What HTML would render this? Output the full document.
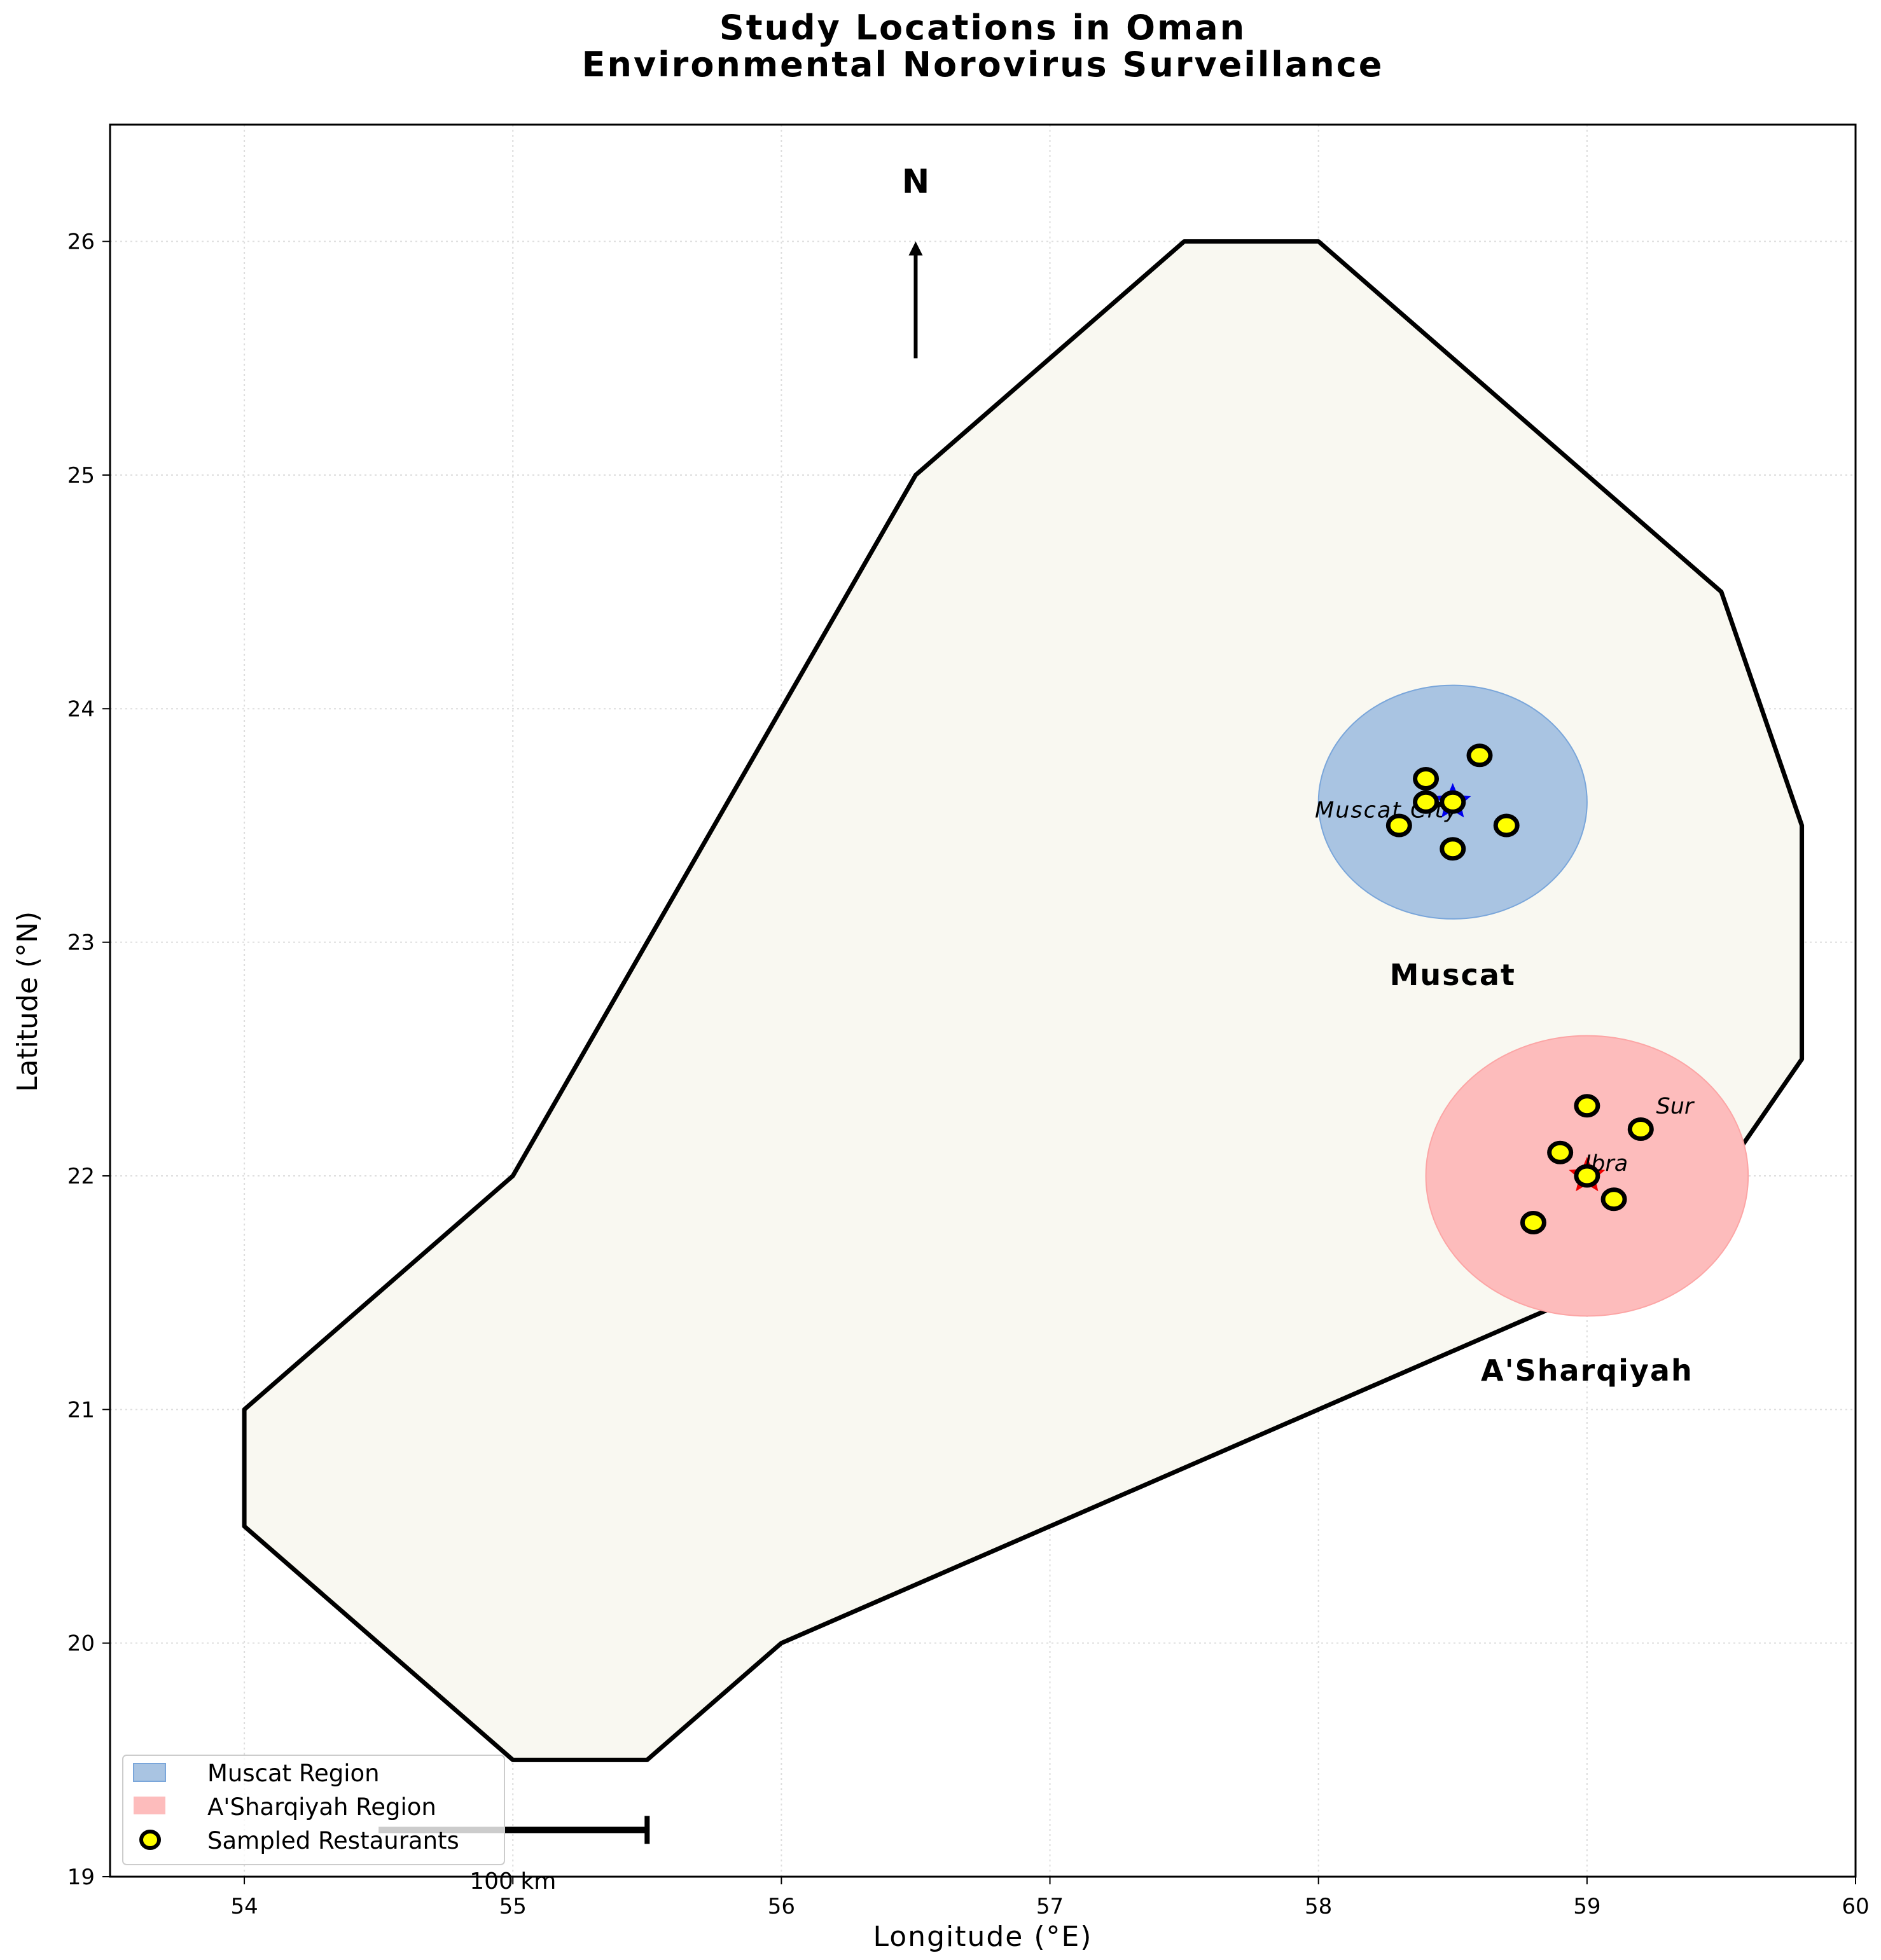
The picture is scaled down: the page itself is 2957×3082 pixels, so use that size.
<!DOCTYPE html>
<html><head><meta charset="utf-8"><style>html,body{margin:0;padding:0;background:#fff}svg{display:block}text{font-family:"DejaVu Sans","Liberation Sans",sans-serif}</style></head>
<body>
<svg id="chart" width="2957" height="3082" viewBox="0 0 2957 3082" xmlns="http://www.w3.org/2000/svg">
<rect width="2957" height="3082" fill="#fff"/>
<text x="1545" y="62" text-anchor="middle" font-size="54" font-weight="bold" letter-spacing="3">Study Locations in Oman</text>
<text x="1545" y="120" text-anchor="middle" font-size="54" font-weight="bold" letter-spacing="3">Environmental Norovirus Surveillance</text>
<g id="plot"></g>
</svg>
<script>
const xTicks=[54,55,56,57,58,59,60];
const yTicks=[19,20,21,22,23,24,25,26];
const boundaryLon=[54,54,55,55.5,56,59,59.5,59.8,59.8,59.5,58,57.5,56.5,55,54];
const boundaryLat=[21,20.5,19.5,19.5,20,21.5,22,22.5,23.5,24.5,26,26,25,22,21];
const muscatLon=[58.4,58.6,58.4,58.5,58.3,58.7,58.5];
const muscatLat=[23.7,23.8,23.6,23.6,23.5,23.5,23.4];
const sharqLon=[59,59.2,58.9,59,59.1,58.8];
const sharqLat=[22.3,22.2,22.1,22,21.9,21.8];
const regionCenters=[[58.5,23.6],[59,22]];
const regionRadii=[0.5,0.6];

const L=173,R=2917,T=196,B=2951;
const X=v=>L+(v-53.5)/(60-53.5)*(R-L);
const Y=v=>B-(v-19)/(26.5-19)*(B-T);
const NS='http://www.w3.org/2000/svg';
const g=document.getElementById('plot');
function mk(tag,attrs,parent){const e=document.createElementNS(NS,tag);for(const k in attrs)e.setAttribute(k,attrs[k]);(parent||g).appendChild(e);return e;}

xTicks.forEach(v=>{const e=mk('line',{x1:X(v),x2:X(v),y1:T,y2:B,stroke:'#ddd','stroke-width':2,'stroke-dasharray':'3,5'});

});
yTicks.forEach(v=>{const e=mk('line',{x1:L,x2:R,y1:Y(v),y2:Y(v),stroke:'#ddd','stroke-width':2,'stroke-dasharray':'3,5'});

});

const pts=boundaryLon.map((v,i)=>X(v)+','+Y(boundaryLat[i])).join(' ');
const poly=mk('polygon',{points:pts,fill:'#f9f8f1',stroke:'#000','stroke-width':7,'stroke-linejoin':'round'});



const regColors=[['#a9c4e2','#7aa6da'],['#fdbcbc','#fca5a5']];
const regNames=['muscat-region','asharqiyah-region'];
regionCenters.forEach((c,i)=>{const e=mk('ellipse',{cx:X(c[0]),cy:Y(c[1]),rx:X(c[0]+regionRadii[i])-X(c[0]),ry:Y(c[1])-Y(c[1]+regionRadii[i]),fill:regColors[i][0],stroke:regColors[i][1],'stroke-width':2});

});

function star(cx,cy,r,col,name){let p=[];for(let k=0;k<10;k++){const a=-Math.PI/2+k*Math.PI/5,rr=k%2?r*0.45:r;p.push((cx+rr*Math.cos(a))+','+(cy+rr*Math.sin(a)));}
const e=mk('polygon',{points:p.join(' '),fill:col});

}
star(X(58.5),Y(23.6),30,'#0000ee','muscat-city-star');
star(X(59),Y(22),30,'#ee0000','ibra-star');

function label(x,y,txt,size,extra,name){const e=mk('text',Object.assign({x:x,y:y,'font-size':size},extra));e.textContent=txt;

return e;}
label(X(58.5)+10,Y(23.6)+24,'Muscat City',35,{'text-anchor':'end','font-style':'italic','letter-spacing':2},'muscat-city-label');
label(X(59)-4,Y(22)-8,'Ibra',35,{'font-style':'italic'},'ibra-label');
label(X(59.3)-18,Y(22.3)+12,'Sur',35,{'font-style':'italic'},'sur-label');
label(X(58.5),Y(22.85)+12,'Muscat',46,{'text-anchor':'middle','font-weight':'bold','letter-spacing':2},'muscat-region-label');
label(X(59),Y(21.15)+10,"A'Sharqiyah",46,{'text-anchor':'middle','font-weight':'bold','letter-spacing':2},'asharqiyah-region-label');

function dot(lon,lat){const e=mk('ellipse',{cx:X(lon),cy:Y(lat),rx:17,ry:15,fill:'#ffff00',stroke:'#000','stroke-width':7});

}
muscatLon.forEach((v,i)=>dot(v,muscatLat[i]));
sharqLon.forEach((v,i)=>dot(v,sharqLat[i]));

const na=mk('line',{x1:X(56.5),x2:X(56.5),y1:Y(25.5),y2:Y(26)+12,stroke:'#000','stroke-width':6});


const nh=mk('polygon',{points:`${X(56.5)-11},${Y(26)+22} ${X(56.5)},${Y(26)} ${X(56.5)+11},${Y(26)+22}`,fill:'#000'});


label(X(56.5),303,'N',52,{'text-anchor':'middle','font-weight':'bold'},'north-label');

const sb=mk('line',{x1:X(54.5),x2:X(55.5),y1:Y(19.2),y2:Y(19.2),stroke:'#000','stroke-width':10});


const st=mk('line',{x1:X(55.5),x2:X(55.5),y1:Y(19.2)-22,y2:Y(19.2)+22,stroke:'#000','stroke-width':8});



const lg=mk('rect',{x:193,y:2760,width:600,height:172,rx:6,fill:'#fff','fill-opacity':0.8,stroke:'#ccc','stroke-width':2});


const ls1=mk('rect',{x:210,y:2773,width:50,height:28,fill:'#a9c4e2',stroke:'#7aa6da','stroke-width':2});


const ls2=mk('rect',{x:210,y:2825,width:50,height:28,fill:'#fdbcbc'});


const ld=mk('ellipse',{cx:236,cy:2893,rx:14,ry:13,fill:'#ffff00',stroke:'#000','stroke-width':6});


label(326,2801,'Muscat Region',37,{},'legend-entry-muscat');
label(326,2854,"A'Sharqiyah Region",37,{},'legend-entry-asharqiyah');
label(326,2907,'Sampled Restaurants',37,{},'legend-entry-restaurants');
label(X(55),2970,'100 km',36,{'text-anchor':'middle'},'scale-bar-label');

const fr=mk('rect',{x:L,y:T,width:R-L,height:B-T,fill:'none',stroke:'#000','stroke-width':3});


xTicks.forEach(v=>{const t=mk('line',{x1:X(v),x2:X(v),y1:B,y2:B+12,stroke:'#000','stroke-width':2});


label(X(v),B+58,String(v),34,{'text-anchor':'middle'},'x-tick-label');});
yTicks.forEach(v=>{const t=mk('line',{x1:L-12,x2:L,y1:Y(v),y2:Y(v),stroke:'#000','stroke-width':2});


label(L-24,Y(v)+12,String(v),34,{'text-anchor':'end'},'y-tick-label');});
label((L+R)/2,3060,'Longitude (°E)',44,{'text-anchor':'middle','letter-spacing':2},'x-axis-title');
label(58,1575,'Latitude (°N)',44,{'text-anchor':'middle',transform:'rotate(-90 58 1575)'},'y-axis-title');
</script>
</body></html>
